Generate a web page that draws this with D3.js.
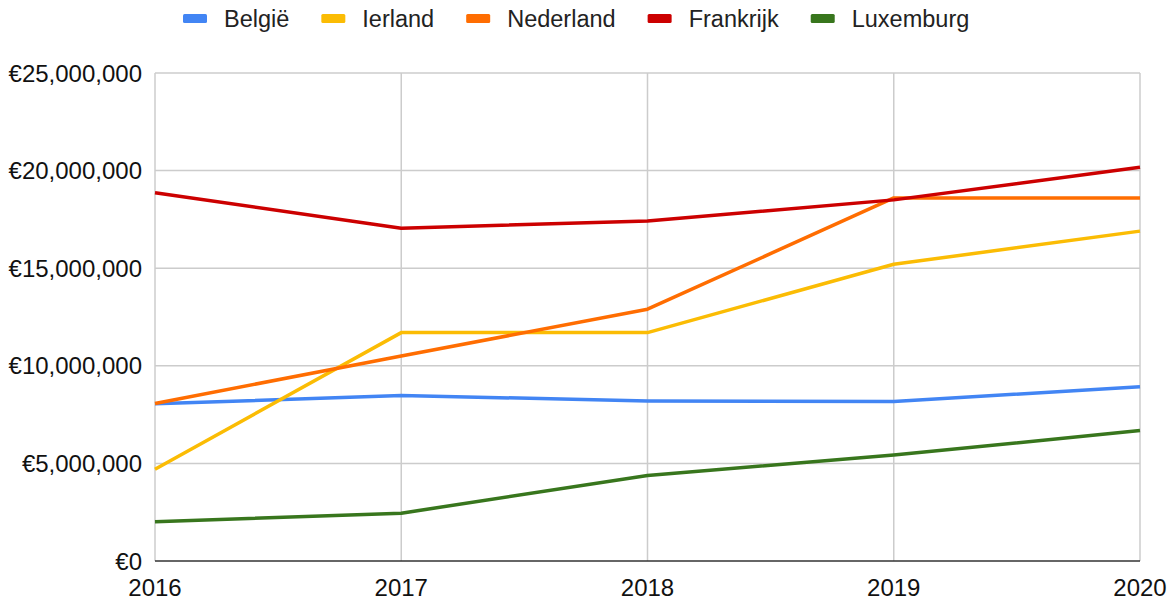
<!DOCTYPE html>
<html>
<head>
<meta charset="utf-8">
<script src="https://cdn.jsdelivr.net/npm/d3@7"></script>
<style>
  body { margin: 0; background: #fff; }
  text { font-family: "Liberation Sans", Arial, sans-serif; }
</style>
</head>
<body>
<svg width="1176" height="601"></svg>
<script>
var years = [2016, 2017, 2018, 2019, 2020];
var yTicks = [0, 5000000, 10000000, 15000000, 20000000, 25000000];

var belgie     = [8050000, 8480000, 8200000, 8170000, 8930000];
var ierland    = [4700000, 11700000, 11700000, 15200000, 16900000];
var nederland  = [8070000, 10500000, 12900000, 18600000, 18600000];
var frankrijk  = [18870000, 17050000, 17420000, 18500000, 20170000];
var luxembourg = [2010000, 2450000, 4380000, 5430000, 6680000];

var seriesNames  = ["België", "Ierland", "Nederland", "Frankrijk", "Luxemburg"];
var seriesValues = [belgie, ierland, nederland, frankrijk, luxembourg];
var seriesColors = ["#4285f4", "#fbbc04", "#ff6d01", "#cc0000", "#38761d"];

var svg = d3.select("svg"),
    width = +svg.attr("width"),
    height = +svg.attr("height");

var x = d3.scaleLinear().domain([2016, 2020]).range([155, 1140]);
var y = d3.scaleLinear().domain([0, 25000000]).range([561, 73]);

var fmt = function (v) { return "€" + d3.format(",")(v); };

// grid
svg.append("g")
    .selectAll("line")
    .data(yTicks.slice(1))
    .enter().append("line")
    .attr("x1", x(2016)).attr("x2", x(2020))
    .attr("y1", d => y(d)).attr("y2", d => y(d))
    .attr("stroke", "#cccccc")
    .attr("stroke-width", 1.5);

svg.append("g")
    .selectAll("line")
    .data(years)
    .enter().append("line")
    .attr("x1", d => x(d)).attr("x2", d => x(d))
    .attr("y1", y(25000000)).attr("y2", y(0))
    .attr("stroke", "#cccccc")
    .attr("stroke-width", 1.5);

// baseline
svg.append("line")
    .attr("x1", x(2016)).attr("x2", x(2020))
    .attr("y1", y(0)).attr("y2", y(0))
    .attr("stroke", "#333")
    .attr("stroke-width", 1.5);

// y labels
svg.append("g")
    .selectAll("text")
    .data(yTicks)
    .enter().append("text")
    .attr("x", 142)
    .attr("y", d => y(d))
    .attr("dy", "0.36em")
    .attr("text-anchor", "end")
    .style("font-size", "24px")
    .attr("fill", "#111")
    .text(fmt);

// x labels
svg.append("g")
    .selectAll("text")
    .data(years)
    .enter().append("text")
    .attr("x", d => x(d))
    .attr("y", 596)
    .attr("text-anchor", "middle")
    .style("font-size", "24px")
    .attr("fill", "#111")
    .text(d => d);

// lines
var line = d3.line()
    .x((d, i) => x(years[i]))
    .y(d => y(d));

svg.append("g")
    .selectAll("path")
    .data(seriesValues)
    .enter().append("path")
    .attr("d", line)
    .attr("fill", "none")
    .attr("stroke", (d, i) => seriesColors[i])
    .attr("stroke-width", 3.5)
    .attr("stroke-linejoin", "round");

// legend
var legend = svg.append("g");
var lx = 183;
seriesNames.forEach(function (name, i) {
    legend.append("rect")
        .attr("x", lx).attr("y", 14)
        .attr("width", 24).attr("height", 9)
        .attr("rx", 1.5)
        .attr("fill", seriesColors[i]);
    var t = legend.append("text")
        .attr("x", lx + 41)
        .attr("y", 19)
        .attr("dy", "0.36em")
        .style("font-size", "23.5px")
        .attr("fill", "#222")
        .text(name);
    lx += 41 + t.node().getComputedTextLength() + 32;
});
</script>
</body>
</html>
